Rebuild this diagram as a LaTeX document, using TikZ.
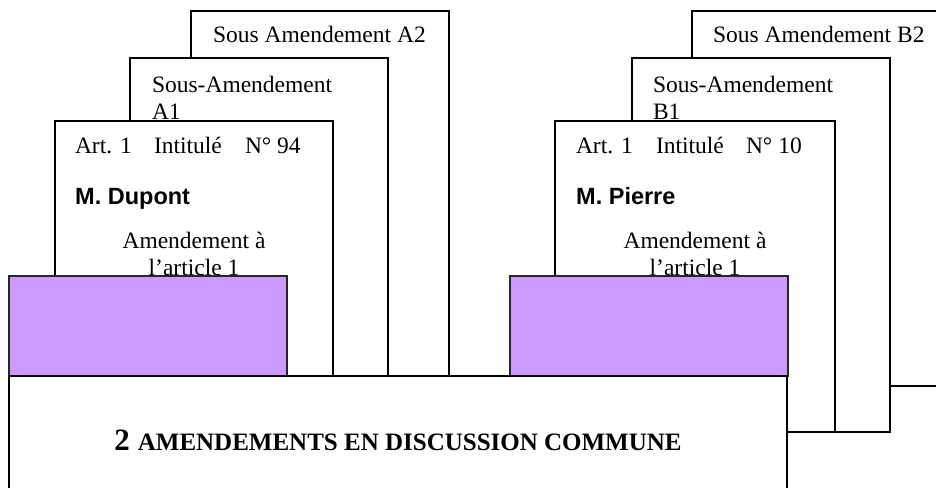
\documentclass[tikz,border=0pt]{standalone}
\usepackage{fontspec}
\setmainfont{Liberation Serif}
\newfontfamily\arialf{Liberation Sans}
\definecolor{lav}{HTML}{CC99FF}
\tikzset{
  paper/.style={draw=black, fill=white, line width=1.5pt},
  purplebox/.style={draw=black!85, fill=lav, line width=1.5pt},
  txt/.style={inner sep=0pt, outer sep=0pt, font=\fontsize{23.5}{27}\selectfont},
  txtw/.style={txt, anchor=base west},
  txtc/.style={txt, anchor=base},
  namebold/.style={inner sep=0pt, anchor=base west, font=\arialf\bfseries\fontsize{23.5}{27}\selectfont}
}
\begin{document}
\begin{tikzpicture}[x=1pt,y=-1pt]
\useasboundingbox (0,0) rectangle (936,487);
\clip (0,0) rectangle (936,487);
\fill[white] (0,0) rectangle (936,487);
% ---- left stack ----
\draw[paper] (191,11) rectangle (449,400);
\node[txtw] (a2t) at (213,42) {Sous Amendement A2};
\draw[paper] (130,58) rectangle (388,400);
\node[txtw] (a1t) at (152,92) {Sous-Amendement};
\node[txtw] (a1n) at (152,119) {A1};
\draw[paper] (55,121) rectangle (333,400);
\node[txtw] (aart) at (75,153) {Art. 1};
\node[txtw] (aint) at (154,153) {Intitulé};
\node[txtw] (anum) at (245,153) {N° 94};
\node[namebold] (aname) at (75,204) {M. Dupont};
\node[txtc] (aam) at (194,248) {Amendement à};
\node[txtc] (aart1) at (194,275) {l’article 1};
\draw[purplebox] (9,276) rectangle (287,376);
% ---- right stack ----
\draw[paper] (692,11) rectangle (960,386);
\node[txtw] (b2t) at (713,42) {Sous Amendement B2};
\draw[paper] (632,58) rectangle (890,432);
\node[txtw] (b1t) at (653,92) {Sous-Amendement};
\node[txtw] (b1n) at (653,119) {B1};
\draw[paper] (555,121) rectangle (835,432);
\node[txtw] (bart) at (576,153) {Art. 1};
\node[txtw] (bint) at (656,153) {Intitulé};
\node[txtw] (bnum) at (746,153) {N° 10};
\node[namebold] (bname) at (576,204) {M. Pierre};
\node[txtc] (bam) at (695,248) {Amendement à};
\node[txtc] (bart1) at (695,275) {l’article 1};
\draw[purplebox] (510,276) rectangle (788,376);
% ---- bottom box ----
\draw[paper] (9,376) rectangle (787,520);
\node[inner sep=0pt, anchor=base] (title) at (398,450)
  {\bfseries{\fontsize{31}{35}\selectfont 2}\hspace{8pt}{\fontsize{25}{29}\selectfont AMENDEMENTS EN DISCUSSION COMMUNE}};
\end{tikzpicture}
\end{document}
